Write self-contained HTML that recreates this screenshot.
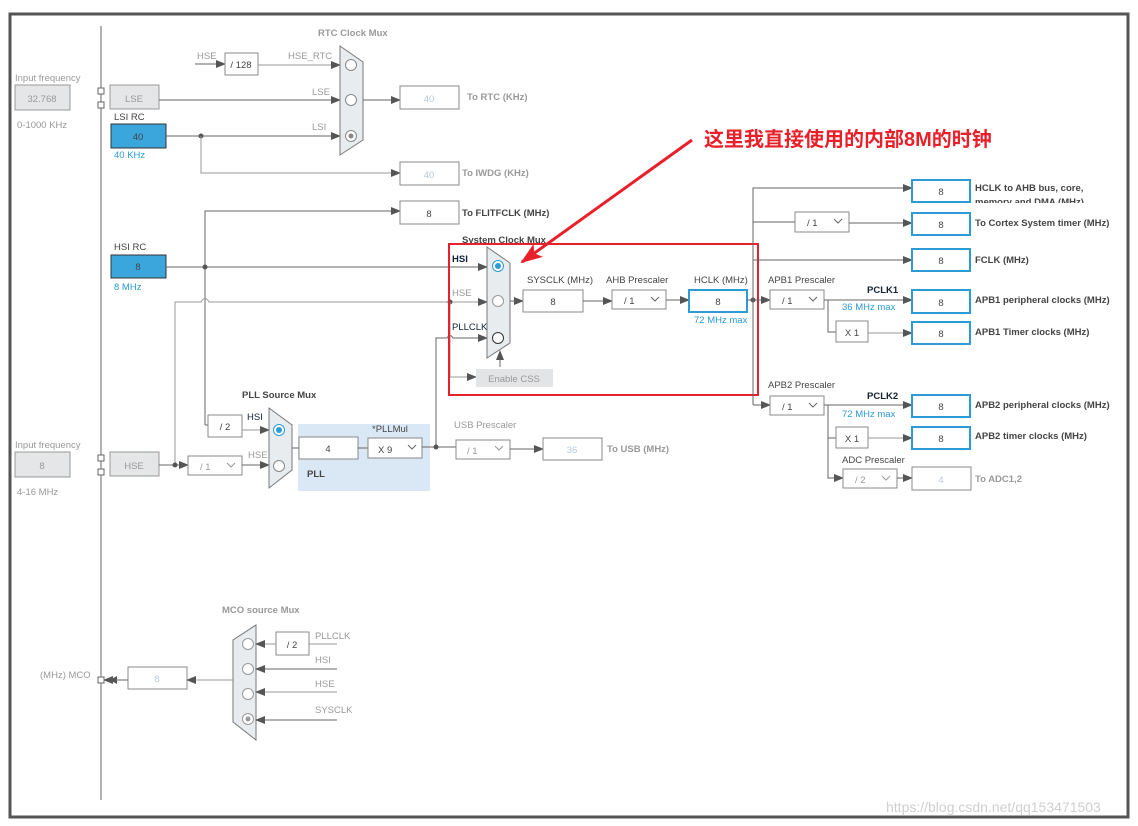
<!DOCTYPE html>
<html><head><meta charset="utf-8"><style>
html,body{margin:0;padding:0;background:#fff}
svg{display:block}
text{font-family:"Liberation Sans",Arial,sans-serif;font-size:9.5px;fill:#444}
.g{fill:#999}.b{fill:#2c9bd6}.bold{font-weight:bold}.w{fill:#b8c8d8}
.ln{stroke:#666;stroke-width:1;fill:none}
.lg{stroke:#999;stroke-width:1;fill:none}
.box{fill:#fff;stroke:#888;stroke-width:1}
.bb{fill:#fff;stroke:#2c9bd6;stroke-width:2}
.gb{fill:#e4e6e8;stroke:#999;stroke-width:1}
.mux{fill:#e8ecef;stroke:#777;stroke-width:1}
</style></head><body>
<svg width="1138" height="826" viewBox="0 0 1138 826" xmlns="http://www.w3.org/2000/svg">
<defs>
<marker id="a" markerWidth="10" markerHeight="8" refX="9" refY="4" orient="auto" markerUnits="userSpaceOnUse"><path d="M0,0L10,4L0,8z" fill="#555"/></marker>
<marker id="r" markerWidth="22" markerHeight="16" refX="20" refY="8" orient="auto" markerUnits="userSpaceOnUse"><path d="M0,0L22,8L0,16L5,8z" fill="#e8202a"/></marker>
</defs>
<rect x="10" y="14" width="1118" height="803" fill="#fff" stroke="#555" stroke-width="3"/>
<line x1="101" y1="26" x2="101" y2="800" class="ln"/>

<!-- LSE -->
<text x="15" y="81" class="g">Input frequency</text>
<rect x="15" y="85" width="55" height="25" class="gb"/><text x="42" y="102" class="g" text-anchor="middle" font-size="11">32.768</text>
<text x="17" y="128" class="g">0-1000 KHz</text>
<rect x="98" y="88" width="6" height="6" fill="#fff" stroke="#666"/><rect x="98" y="102" width="6" height="6" fill="#fff" stroke="#666"/>
<rect x="110" y="85" width="49" height="24" class="gb"/><text x="134" y="102" class="g" text-anchor="middle" font-size="13">LSE</text>
<text x="114" y="120">LSI RC</text>
<rect x="111" y="124" width="55" height="24" fill="#3aa6dc" stroke="#333"/><text x="138" y="140" text-anchor="middle" font-size="11" fill="#222">40</text>
<text x="114" y="158" class="b">40 KHz</text>

<!-- RTC mux -->
<text x="318" y="36" class="g bold" font-size="8.5">RTC Clock Mux</text>
<line x1="195" y1="64" x2="225" y2="64" class="ln" marker-end="url(#a)"/><text x="197" y="59" class="g">HSE</text>
<rect x="225" y="53" width="33" height="22" class="box"/><text x="241" y="68" text-anchor="middle" font-size="10.5">/ 128</text>
<line x1="258" y1="65" x2="340" y2="65" class="lg" marker-end="url(#a)"/><text x="288" y="59" class="g">HSE_RTC</text>
<line x1="159" y1="100" x2="340" y2="100" class="ln" marker-end="url(#a)"/><text x="312" y="95" class="g">LSE</text>
<line x1="166" y1="136" x2="340" y2="136" class="ln" marker-end="url(#a)"/><text x="312" y="130" class="g">LSI</text>
<circle cx="201" cy="136" r="2.5" fill="#555"/>
<polyline points="201,136 201,173 400,173" class="lg" marker-end="url(#a)"/>
<path d="M340,46 L363,62 L363,140 L340,155z" class="mux"/>
<circle cx="351" cy="65" r="5.5" fill="#fff" stroke="#888"/><circle cx="351" cy="100" r="5.5" fill="#fff" stroke="#888"/><circle cx="351" cy="136" r="5.5" fill="#fff" stroke="#888"/><circle cx="351" cy="136" r="2.5" fill="#888"/>
<line x1="363" y1="100" x2="400" y2="100" class="ln" marker-end="url(#a)"/>
<rect x="400" y="86" width="59" height="23" class="box"/><text x="429" y="102" class="w" text-anchor="middle" font-size="11">40</text>
<text x="467" y="100" class="g bold" font-size="9">To RTC (KHz)</text>
<rect x="400" y="162" width="59" height="23" class="box"/><text x="429" y="178" class="w" text-anchor="middle" font-size="11">40</text>
<text x="462" y="176" class="g bold" font-size="9">To IWDG (KHz)</text>

<!-- FLITF -->
<polyline points="205,425 205,211 400,211" class="ln" marker-end="url(#a)"/>
<rect x="400" y="201" width="59" height="23" class="box"/><text x="429" y="217" text-anchor="middle" font-size="11">8</text>
<text x="462" y="216" class="bold" font-size="9">To FLITFCLK (MHz)</text>

<!-- HSI -->
<text x="114" y="250">HSI RC</text>
<rect x="111" y="255" width="55" height="23" fill="#3aa6dc" stroke="#333"/><text x="138" y="270" text-anchor="middle" font-size="11" fill="#222">8</text>
<text x="114" y="290" class="b">8 MHz</text>
<line x1="166" y1="267" x2="487" y2="267" class="ln" marker-end="url(#a)"/><circle cx="205" cy="267" r="2.5" fill="#555"/>
<text x="452" y="262" font-weight="bold" style="fill:#123">HSI</text>
<path d="M175,465 L175,302 L201,302 Q205,295 209,302 L487,302" class="lg" marker-end="url(#a)"/>
<circle cx="450" cy="302" r="2.5" fill="#555"/><text x="452" y="296" class="g">HSE</text>
<path d="M436,447 L436,338 L447,338 Q450,333 453,338 L487,338" class="ln" marker-end="url(#a)"/>
<text x="452" y="330" style="fill:#123">PLLCLK</text>
<polyline points="450,302 450,377 476,377" class="lg" marker-end="url(#a)"/>
<rect x="476" y="369" width="77" height="18" fill="#e2e4e6"/><text x="514" y="382" class="g" text-anchor="middle" font-size="10.5">Enable CSS</text>
<line x1="500" y1="367" x2="500" y2="351" class="ln" marker-end="url(#a)"/>
<text x="462" y="243" class="bold" font-size="8.5">System Clock Mux</text>
<path d="M487,247 L510,263 L510,343 L487,358z" class="mux"/>
<circle cx="498" cy="266" r="5.5" fill="#fff" stroke="#2c9bd6"/><circle cx="498" cy="266" r="3" fill="#2c9bd6"/>
<circle cx="498" cy="301" r="5.5" fill="#fff" stroke="#999"/><circle cx="498" cy="338" r="5.5" fill="#fff" stroke="#333"/>
<line x1="510" y1="301" x2="523" y2="301" class="ln" marker-end="url(#a)"/>
<text x="527" y="283">SYSCLK (MHz)</text>
<rect x="523" y="290" width="60" height="22" class="box"/><text x="553" y="305" text-anchor="middle" font-size="11">8</text>
<line x1="583" y1="301" x2="612" y2="301" class="ln" marker-end="url(#a)"/>
<text x="606" y="283">AHB Prescaler</text>
<rect x="612" y="290" width="54" height="19" class="box"/><text x="624" y="304" font-size="11">/ 1</text><path d="M651,297 l4,4 l4,-4" class="ln"/>
<line x1="666" y1="300" x2="689" y2="300" class="ln" marker-end="url(#a)"/>
<text x="694" y="283">HCLK (MHz)</text>
<rect x="689" y="290" width="58" height="22" class="bb"/><text x="718" y="305" text-anchor="middle" font-size="11">8</text>
<text x="694" y="323" class="b">72 MHz max</text>
<rect x="449" y="244" width="309" height="151" fill="none" stroke="#e8202a" stroke-width="2"/>

<!-- right tree -->
<line x1="747" y1="300" x2="770" y2="300" class="ln" marker-end="url(#a)"/><circle cx="753" cy="300" r="2.5" fill="#555"/>
<polyline points="753,405 753,188 912,188" class="ln" marker-end="url(#a)"/>
<line x1="753" y1="405" x2="770" y2="405" class="ln" marker-end="url(#a)"/>
<line x1="753" y1="222" x2="795" y2="222" class="ln"/>
<rect x="795" y="212" width="54" height="20" class="box"/><text x="807" y="226" font-size="11">/ 1</text><path d="M834,219 l4,4 l4,-4" class="ln"/>
<line x1="849" y1="223" x2="912" y2="223" class="ln" marker-end="url(#a)"/>
<line x1="753" y1="260" x2="912" y2="260" class="ln" marker-end="url(#a)"/>
<rect x="912" y="180" width="58" height="22" class="bb"/><text x="941" y="195" text-anchor="middle" font-size="11">8</text>
<text x="975" y="191" class="bold" font-size="9">HCLK to AHB bus, core,</text>
<svg x="975" y="195" width="150" height="8" overflow="hidden"><text x="0" y="10" class="bold" font-size="9">memory and DMA (MHz)</text></svg>
<rect x="912" y="213" width="58" height="22" class="bb"/><text x="941" y="228" text-anchor="middle" font-size="11">8</text>
<text x="975" y="226" class="bold" font-size="9">To Cortex System timer (MHz)</text>
<rect x="912" y="249" width="58" height="22" class="bb"/><text x="941" y="264" text-anchor="middle" font-size="11">8</text>
<text x="975" y="263" class="bold" font-size="9">FCLK (MHz)</text>

<text x="768" y="283">APB1 Prescaler</text>
<rect x="770" y="290" width="54" height="19" class="box"/><text x="782" y="304" font-size="11">/ 1</text><path d="M809,297 l4,4 l4,-4" class="ln"/>
<line x1="824" y1="300" x2="912" y2="300" class="ln" marker-end="url(#a)"/>
<text x="867" y="293" style="fill:#123" class="bold" font-size="9">PCLK1</text>
<text x="842" y="310" class="b" font-size="9">36 MHz max</text>
<rect x="912" y="290" width="58" height="23" class="bb"/><text x="941" y="306" text-anchor="middle" font-size="11">8</text>
<text x="975" y="303" class="bold" font-size="9">APB1 peripheral clocks (MHz)</text>
<polyline points="828,300 828,332 836,332" class="ln"/>
<rect x="836" y="321" width="32" height="21" class="box"/><text x="852" y="336" text-anchor="middle" font-size="11">X 1</text>
<line x1="868" y1="333" x2="912" y2="333" class="lg" marker-end="url(#a)"/>
<rect x="912" y="322" width="58" height="22" class="bb"/><text x="941" y="337" text-anchor="middle" font-size="11">8</text>
<text x="975" y="335" class="bold" font-size="9">APB1 Timer clocks (MHz)</text>

<text x="768" y="388">APB2 Prescaler</text>
<rect x="770" y="396" width="54" height="19" class="box"/><text x="782" y="410" font-size="11">/ 1</text><path d="M809,403 l4,4 l4,-4" class="ln"/>
<line x1="824" y1="405" x2="912" y2="405" class="ln" marker-end="url(#a)"/>
<text x="867" y="399" style="fill:#123" class="bold" font-size="9">PCLK2</text>
<text x="842" y="417" class="b" font-size="9">72 MHz max</text>
<rect x="912" y="395" width="58" height="22" class="bb"/><text x="941" y="410" text-anchor="middle" font-size="11">8</text>
<text x="975" y="408" class="bold" font-size="9">APB2 peripheral clocks (MHz)</text>
<polyline points="828,405 828,478 843,478" class="ln" marker-end="url(#a)"/>
<line x1="828" y1="438" x2="836" y2="438" class="ln"/>
<rect x="836" y="427" width="32" height="21" class="box"/><text x="852" y="442" text-anchor="middle" font-size="11">X 1</text>
<line x1="868" y1="438" x2="912" y2="438" class="lg" marker-end="url(#a)"/>
<rect x="912" y="427" width="58" height="22" class="bb"/><text x="941" y="442" text-anchor="middle" font-size="11">8</text>
<text x="975" y="439" class="bold" font-size="9">APB2 timer clocks (MHz)</text>
<text x="842" y="463">ADC Prescaler</text>
<rect x="843" y="469" width="54" height="19" class="box"/><text x="855" y="483" class="g" font-size="11">/ 2</text><path d="M882,476 l4,4 l4,-4" class="lg"/>
<line x1="897" y1="478" x2="912" y2="478" class="ln" marker-end="url(#a)"/>
<rect x="912" y="467" width="59" height="23" class="box"/><text x="941" y="483" class="w" text-anchor="middle" font-size="11">4</text>
<text x="975" y="482" class="g bold" font-size="9">To ADC1,2</text>

<!-- HSE / PLL -->
<text x="15" y="448" class="g">Input frequency</text>
<rect x="15" y="452" width="55" height="25" class="gb"/><text x="42" y="469" class="g" text-anchor="middle" font-size="11">8</text>
<text x="17" y="495" class="g">4-16 MHz</text>
<rect x="98" y="455" width="6" height="6" fill="#fff" stroke="#666"/><rect x="98" y="469" width="6" height="6" fill="#fff" stroke="#666"/>
<rect x="110" y="452" width="49" height="24" class="gb"/><text x="134" y="469" class="g" text-anchor="middle" font-size="13">HSE</text>
<line x1="159" y1="465" x2="188" y2="465" class="ln" marker-end="url(#a)"/><circle cx="175" cy="465" r="2.5" fill="#555"/>
<rect x="188" y="456" width="54" height="19" class="box"/><text x="200" y="470" class="g" font-size="11">/ 1</text><path d="M227,463 l4,4 l4,-4" class="lg"/>
<line x1="242" y1="465" x2="269" y2="465" class="ln" marker-end="url(#a)"/><text x="248" y="458" class="g">HSE</text>
<polyline points="205,425 208,425" class="ln"/>
<rect x="208" y="415" width="34" height="22" class="box"/><text x="225" y="430" text-anchor="middle" font-size="11">/ 2</text>
<line x1="242" y1="430" x2="269" y2="430" class="lg" marker-end="url(#a)"/><text x="247" y="420" style="fill:#123">HSI</text>
<text x="242" y="398" class="bold" font-size="8.5">PLL  Source Mux</text>
<path d="M269,408 L292,425 L292,470 L269,488z" class="mux"/>
<circle cx="279" cy="430" r="5.5" fill="#fff" stroke="#2c9bd6"/><circle cx="279" cy="430" r="3" fill="#2c9bd6"/>
<circle cx="279" cy="466" r="5.5" fill="#fff" stroke="#888"/>
<rect x="298" y="424" width="132" height="67" fill="#dae8f5"/>
<line x1="292" y1="448" x2="299" y2="448" class="ln"/>
<rect x="299" y="437" width="59" height="22" class="box"/><text x="328" y="452" text-anchor="middle" font-size="11">4</text>
<line x1="358" y1="448" x2="368" y2="448" class="ln"/>
<rect x="368" y="438" width="54" height="20" class="box"/><text x="378" y="453" font-size="11">X 9</text><path d="M408,445 l4,4 l4,-4" class="ln"/>
<text x="372" y="432" font-size="8.5">*PLLMul</text>
<text x="307" y="477" class="bold" font-size="9">PLL</text>
<line x1="422" y1="447" x2="456" y2="447" class="ln"/><circle cx="436" cy="447" r="2.5" fill="#555"/>
<text x="454" y="428" class="g">USB Prescaler</text>
<rect x="456" y="440" width="54" height="19" class="box"/><text x="467" y="454" class="g" font-size="11">/ 1</text><path d="M495,446 l4,4 l4,-4" class="lg"/>
<line x1="510" y1="449" x2="543" y2="449" class="ln" marker-end="url(#a)"/>
<rect x="543" y="438" width="59" height="22" class="box"/><text x="572" y="453" class="w" text-anchor="middle" font-size="11">36</text>
<text x="607" y="452" class="g bold" font-size="9">To USB (MHz)</text>

<!-- MCO -->
<text x="222" y="613" class="g bold" font-size="8.5">MCO source Mux</text>
<path d="M233,640 L256,625 L256,740 L233,722z" class="mux"/>
<circle cx="248" cy="644" r="5.5" fill="#fff" stroke="#999"/><circle cx="248" cy="669" r="5.5" fill="#fff" stroke="#999"/><circle cx="248" cy="694" r="5.5" fill="#fff" stroke="#999"/><circle cx="248" cy="719" r="5.5" fill="#fff" stroke="#999"/><circle cx="248" cy="719" r="2.5" fill="#999"/>
<rect x="276" y="632" width="33" height="23" class="box"/><text x="292" y="648" text-anchor="middle" font-size="11">/ 2</text>
<line x1="276" y1="644" x2="256" y2="644" class="lg" marker-end="url(#a)"/>
<line x1="309" y1="644" x2="337" y2="644" class="lg"/><text x="315" y="639" class="g">PLLCLK</text>
<line x1="337" y1="669" x2="256" y2="669" class="ln" marker-end="url(#a)"/><text x="315" y="663" class="g">HSI</text>
<line x1="337" y1="692" x2="256" y2="692" class="lg" marker-end="url(#a)"/><text x="315" y="687" class="g">HSE</text>
<line x1="337" y1="720" x2="256" y2="720" class="ln" marker-end="url(#a)"/><text x="315" y="713" class="g">SYSCLK</text>
<line x1="233" y1="680" x2="187" y2="680" class="lg" marker-end="url(#a)"/>
<rect x="128" y="667" width="59" height="22" class="box"/><text x="157" y="682" class="w" text-anchor="middle" font-size="11">8</text>
<line x1="128" y1="680" x2="104" y2="680" class="ln" marker-end="url(#a)"/><path d="M117,676 l-7,4 l7,4z" fill="#555"/>
<rect x="98" y="677" width="6" height="6" fill="#fff" stroke="#666"/>
<text x="40" y="678" class="g">(MHz) MCO</text>

<!-- annotation -->
<line x1="692" y1="140" x2="522" y2="262" stroke="#e8202a" stroke-width="3" marker-end="url(#r)"/>
<text x="704" y="146" style="font-family:'Liberation Sans','Noto Sans CJK SC',sans-serif;fill:#e8202a;font-size:20px;font-weight:bold">这里我直接使用的内部8M的时钟</text>
<text x="886" y="812" style="fill:#cfcfcf;font-size:14px">https://blog.csdn.net/qq153471503</text>
</svg>
</body></html>
